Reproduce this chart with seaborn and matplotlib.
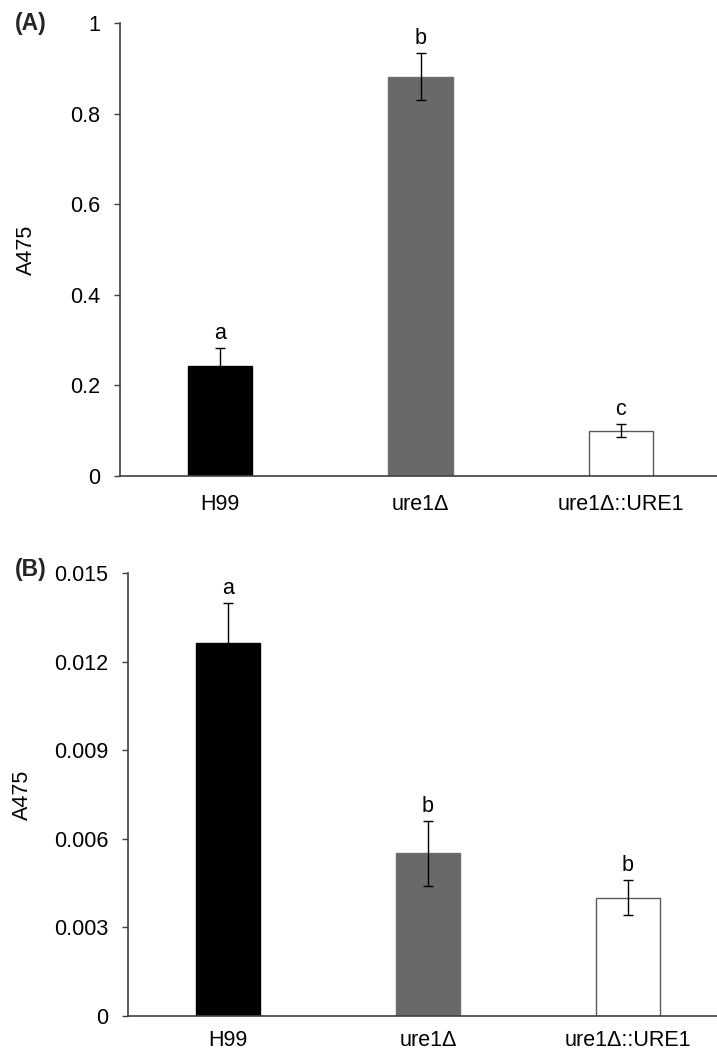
import matplotlib
matplotlib.use("Agg")
import matplotlib.pyplot as plt
import seaborn as sns
import pandas as pd

# ---- data ----
strains = ["H99", "ure1Δ", "ure1Δ::URE1"]
a_values = [0.244, 0.882, 0.100]
a_errors = [0.038, 0.052, 0.014]
a_letters = ["a", "b", "c"]
a_ticks = [0, 0.2, 0.4, 0.6, 0.8, 1]
a_ticklabels = ["0", "0.2", "0.4", "0.6", "0.8", "1"]

b_values = [0.01265, 0.0055, 0.0040]
b_errors = [0.00133, 0.0011, 0.0006]
b_letters = ["a", "b", "b"]
b_ticks = [0, 0.003, 0.006, 0.009, 0.012, 0.015]
b_ticklabels = ["0", "0.003", "0.006", "0.009", "0.012", "0.015"]

bar_colors = ["#000000", "#696969", "#ffffff"]
edge_colors = ["#000000", "#6e6e6e", "#5a5a5a"]

sns.set_theme(style="white")
plt.rcParams["font.family"] = ["Liberation Sans", "DejaVu Sans"]
FS = 15.5
plt.rcParams["font.size"] = FS

W, H = 717, 1052
fig = plt.figure(figsize=(W / 100, H / 100), dpi=100)

axA = fig.add_axes([120 / W, 1 - 476 / H, 601 / W, 452.7 / H])
axB = fig.add_axes([128 / W, 1 - 1015.5 / H, 600 / W, 442.2 / H])


def draw(ax, values, errors, letters, ticks, ticklabels, ylim, label_x, xpad):
    df = pd.DataFrame({"strain": strains, "value": values})
    sns.barplot(data=df, x="strain", y="value", hue="strain",
                palette=bar_colors, hue_order=strains, order=strains,
                width=0.32, legend=False, errorbar=None, ax=ax,
                saturation=1)
    xs = []
    for cont, ec in zip(ax.containers, edge_colors):
        for p in cont:
            p.set_edgecolor(ec)
            p.set_linewidth(1.0)
            xs.append(p.get_x() + p.get_width() / 2)
    ax.errorbar(xs, values, yerr=errors, fmt="none", ecolor="black",
                elinewidth=1.0, capsize=3.5, capthick=1.0, zorder=3)
    for x, v, e, t in zip(xs, values, errors, letters):
        ax.annotate(t, xy=(x, v + e), xytext=(0, 4),
                    textcoords="offset pixels", ha="center", va="bottom",
                    fontsize=FS, color="black")
    ax.set_xlim(-0.5, 2.5)
    ax.set_ylim(*ylim)
    ax.set_yticks(ticks)
    ax.set_yticklabels(ticklabels)
    ax.set_xlabel("")
    ax.set_ylabel("A475", fontsize=FS, color="black")
    ax.yaxis.set_label_coords(label_x, 0.5)
    for s in ["top", "right"]:
        ax.spines[s].set_visible(False)
    for s in ["left", "bottom"]:
        ax.spines[s].set_visible(True)
        ax.spines[s].set_color("#404040")
        ax.spines[s].set_linewidth(1.2)
    ax.tick_params(axis="y", which="both", left=True, length=4.5, width=1.0,
                   color="#404040", pad=9.5, labelsize=FS, labelcolor="black")
    ax.tick_params(axis="x", which="both", bottom=False, length=0, pad=xpad,
                   labelsize=FS, labelcolor="black")
    ax.set_facecolor("white")


draw(axA, a_values, a_errors, a_letters, a_ticks, a_ticklabels, (0, 1), -0.138, 13)
draw(axB, b_values, b_errors, b_letters, b_ticks, b_ticklabels, (0, 0.015), -0.158, 10.5)

fig.text(15 / W, 1 - 12 / H, "(A)", ha="left", va="top", fontsize=16.5,
         fontweight="bold")
fig.text(15 / W, 1 - 558 / H, "(B)", ha="left", va="top", fontsize=16.5,
         fontweight="bold")

fig.savefig("out.png", dpi=100, facecolor="white")
